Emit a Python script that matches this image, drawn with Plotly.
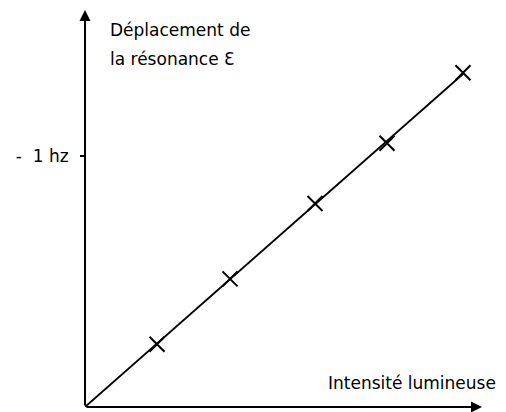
import plotly.graph_objects as go

# Data (intensity in arbitrary units, shift in hz)
intensity = [0.72, 1.45, 2.30, 3.02, 3.78]
shift_hz = [-0.25, -0.51, -0.81, -1.05, -1.33]
y_tick_vals = [-1]
y_tick_text = ["-  1 hz"]
y_title_lines = ["Déplacement de", "la résonance Ɛ"]
x_title = "Intensité lumineuse"

X_MAX = 3.97
Y_MAX = -1.58

# least-squares line through the origin
slope = sum(a * b for a, b in zip(intensity, shift_hz)) / sum(a * a for a in intensity)
line_x = [0, intensity[-1]]
line_y = [0, slope * intensity[-1]]

FONT = "DejaVu Sans"
FS = 17
OFF = 8  # page body margin
W, H = 506, 412
L, R, T, B = 85 - OFF, W - (482 - OFF), 10 - OFF, H - (407 - OFF)

fig = go.Figure()
fig.add_trace(go.Scatter(x=line_x, y=line_y, mode="lines",
                         line=dict(color="black", width=1.8),
                         hoverinfo="skip", cliponaxis=False))
fig.add_trace(go.Scatter(x=intensity, y=shift_hz, mode="markers",
                         marker=dict(symbol="x-thin", size=15, color="black",
                                     line=dict(color="black", width=2)),
                         cliponaxis=False))

# axes drawn as arrows
fig.add_annotation(x=X_MAX, y=0, ax=0, ay=0, xref="x", yref="y", axref="x", ayref="y",
                   showarrow=True, arrowhead=2, arrowsize=1.1, arrowwidth=2,
                   arrowcolor="black", text="")
fig.add_annotation(x=0, y=Y_MAX, ax=0, ay=0, xref="x", yref="y", axref="x", ayref="y",
                   showarrow=True, arrowhead=2, arrowsize=1.1, arrowwidth=2,
                   arrowcolor="black", text="")

px_w = W - L - R
px_h = H - T - B
def px_to_paper(px, py):
    px -= OFF
    py -= OFF
    return (px - L) / px_w, (H - B - py) / px_h

for txt, py in zip(y_title_lines, [30, 59]):
    xp, yp = px_to_paper(108, py)
    fig.add_annotation(x=xp, y=yp, xref="paper", yref="paper", text=txt,
                       showarrow=False, xanchor="left", yanchor="middle",
                       font=dict(family=FONT, size=FS, color="black"))
xp, yp = px_to_paper(326, 383)
fig.add_annotation(x=xp, y=yp, xref="paper", yref="paper", text=x_title,
                   showarrow=False, xanchor="left", yanchor="middle",
                   font=dict(family=FONT, size=FS, color="black"))

fig.update_layout(
    width=W, height=H,
    margin=dict(l=L, r=R, t=T, b=B),
    paper_bgcolor="white", plot_bgcolor="white",
    showlegend=False,
    font=dict(family=FONT, size=FS, color="black"),
    xaxis=dict(range=[0, X_MAX], showgrid=False, zeroline=False, showline=False,
               showticklabels=False, ticks=""),
    yaxis=dict(range=[0, Y_MAX], showgrid=False, zeroline=False, showline=False,
               tickvals=y_tick_vals, ticktext=y_tick_text, ticks="outside",
               ticklen=4, tickwidth=2, tickcolor="black", ticklabelstandoff=8,
               tickfont=dict(family=FONT, size=FS, color="black")),
)

fig.write_html("out.html")
